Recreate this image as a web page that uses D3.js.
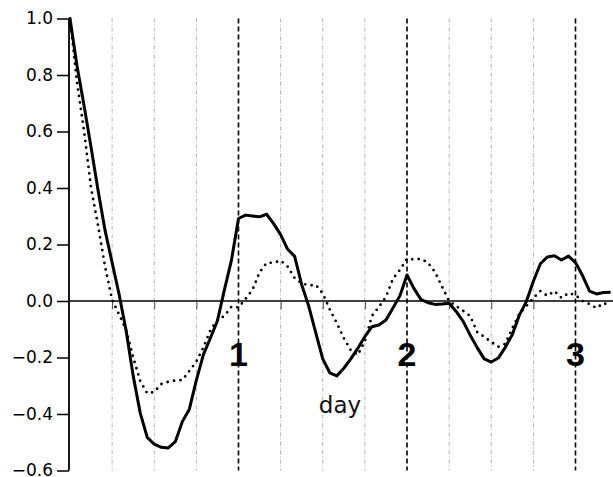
<!DOCTYPE html>
<html>
<head>
<meta charset="utf-8">
<script src="https://cdn.jsdelivr.net/npm/d3@7"></script>
<style>
  body { margin: 0; background: #fff; }
  svg { display: block; }
</style>
</head>
<body>
<div id="chart1"></div>
<script>
// lag in hours (0..77), autocorrelation values
const lagHours = d3.range(0, 78);

const solidValues = [
  1.000, 0.832, 0.692, 0.544, 0.391, 0.249, 0.136, 0.023, -0.106, -0.265,
  -0.396, -0.483, -0.507, -0.518, -0.520, -0.498, -0.427, -0.383, -0.280, -0.190,
  -0.131, -0.070, 0.040, 0.145, 0.292, 0.304, 0.301, 0.298, 0.307, 0.274,
  0.235, 0.183, 0.158, 0.058, -0.018, -0.112, -0.205, -0.254, -0.265, -0.238,
  -0.205, -0.167, -0.126, -0.091, -0.085, -0.067, -0.025, 0.019, 0.092, 0.044,
  0.005, -0.006, -0.012, -0.011, -0.008, -0.037, -0.072, -0.121, -0.165, -0.205,
  -0.216, -0.202, -0.164, -0.119, -0.050, -0.002, 0.070, 0.132, 0.156, 0.160,
  0.145, 0.159, 0.136, 0.090, 0.035, 0.025, 0.030, 0.031
];

const dottedValues = [
  1.000, 0.774, 0.602, 0.400, 0.267, 0.121, 0.004, -0.048, -0.103, -0.200,
  -0.283, -0.327, -0.322, -0.294, -0.286, -0.281, -0.280, -0.248, -0.214, -0.164,
  -0.103, -0.067, -0.053, -0.020, -0.023, 0.007, 0.040, 0.101, 0.135, 0.135,
  0.143, 0.122, 0.081, 0.063, 0.055, 0.057, 0.027, -0.030, -0.078, -0.131,
  -0.175, -0.191, -0.142, -0.053, -0.021, 0.014, 0.079, 0.110, 0.149, 0.147,
  0.149, 0.135, 0.102, 0.050, 0.000, -0.018, -0.035, -0.053, -0.110, -0.127,
  -0.145, -0.162, -0.152, -0.096, -0.046, -0.018, 0.011, 0.035, 0.018, 0.035,
  0.011, 0.028, 0.021, 0.000, -0.011, -0.025, -0.007, -0.018
];

const yTicks = [-0.6, -0.4, -0.2, 0.0, 0.2, 0.4, 0.6, 0.8, 1.0];
const dayLines = [1, 2, 3];
const quarterLines = [0.25, 0.5, 0.75, 1.25, 1.5, 1.75, 2.25, 2.5, 2.75];

const width = 613, height = 477;

const svg = d3.select("#chart1")
  .append("svg")
  .attr("width", width)
  .attr("height", height);

// Scales: x in days, y correlation
const x = d3.scaleLinear()
  .domain([0, 3.25])
  .range([70, 70 + 3.25 * 168.5]);

const y = d3.scaleLinear()
  .domain([-0.6, 1.0])
  .range([470.5, 18.5]);

// Light quarter-day grid lines
svg.append("g")
  .selectAll("line")
  .data(quarterLines)
  .enter()
  .append("line")
  .attr("x1", d => x(d))
  .attr("x2", d => x(d))
  .attr("y1", y(1))
  .attr("y2", y(-0.6))
  .attr("stroke", "#aaa")
  .attr("stroke-width", 0.9)
  .attr("stroke-dasharray", "4,2,1,2");

// Dashed day lines
svg.append("g")
  .selectAll("line")
  .data(dayLines)
  .enter()
  .append("line")
  .attr("x1", d => x(d))
  .attr("x2", d => x(d))
  .attr("y1", y(1))
  .attr("y2", y(-0.6))
  .attr("stroke", "#000")
  .attr("stroke-width", 1.6)
  .attr("stroke-dasharray", "5,3");

// Zero line with small quarter-day ticks
svg.append("g")
  .attr("transform", `translate(0, ${y(0)})`)
  .call(d3.axisBottom(x)
    .tickValues(quarterLines)
    .tickSize(8)
    .tickFormat(""))
  .call(g => g.select(".domain")
    .attr("d", `M${x(0)},0H${width}`)
    .attr("stroke", "#000")
    .attr("stroke-width", 1.4))
  .call(g => g.selectAll(".tick line").attr("stroke", "#444"));

// Y axis
svg.append("g")
  .attr("transform", `translate(${x(0) - 1}, 0)`)
  .call(d3.axisLeft(y)
    .tickValues(yTicks)
    .tickSize(12)
    .tickPadding(4)
    .tickFormat(d3.format(".1f")))
  .call(g => g.select(".domain").attr("d", `M0,${y(1)}V${y(-0.6)}`).attr("stroke-width", 1.8))
  .call(g => g.selectAll(".tick line").attr("stroke-width", 1.5))
  .call(g => g.selectAll(".tick text")
    .attr("font-family", "DejaVu Sans")
    .attr("font-size", "17px")
    .attr("fill", "#000"));

// Curves
const line = d3.line()
  .x((d, i) => x(lagHours[i] / 24))
  .y(d => y(d));

svg.append("path")
  .datum(dottedValues)
  .attr("fill", "none")
  .attr("stroke", "#000")
  .attr("stroke-width", 2.8)
  .attr("stroke-linecap", "round")
  .attr("stroke-dasharray", "0,6.5")
  .attr("d", line);

svg.append("path")
  .datum(solidValues)
  .attr("fill", "none")
  .attr("stroke", "#000")
  .attr("stroke-width", 3)
  .attr("stroke-linejoin", "round")
  .attr("d", line);

// Day labels
svg.append("g")
  .selectAll("text")
  .data(dayLines)
  .enter()
  .append("text")
  .attr("x", d => x(d))
  .attr("y", 366)
  .attr("text-anchor", "middle")
  .attr("font-family", "Liberation Sans")
  .attr("font-weight", "bold")
  .attr("font-size", "34px")
  .text(d => d);

svg.append("text")
  .attr("x", 340)
  .attr("y", 413)
  .attr("text-anchor", "middle")
  .attr("font-family", "DejaVu Sans")
  .attr("font-size", "23px")
  .attr("fill", "#111")
  .text("day");
</script>
</body>
</html>
